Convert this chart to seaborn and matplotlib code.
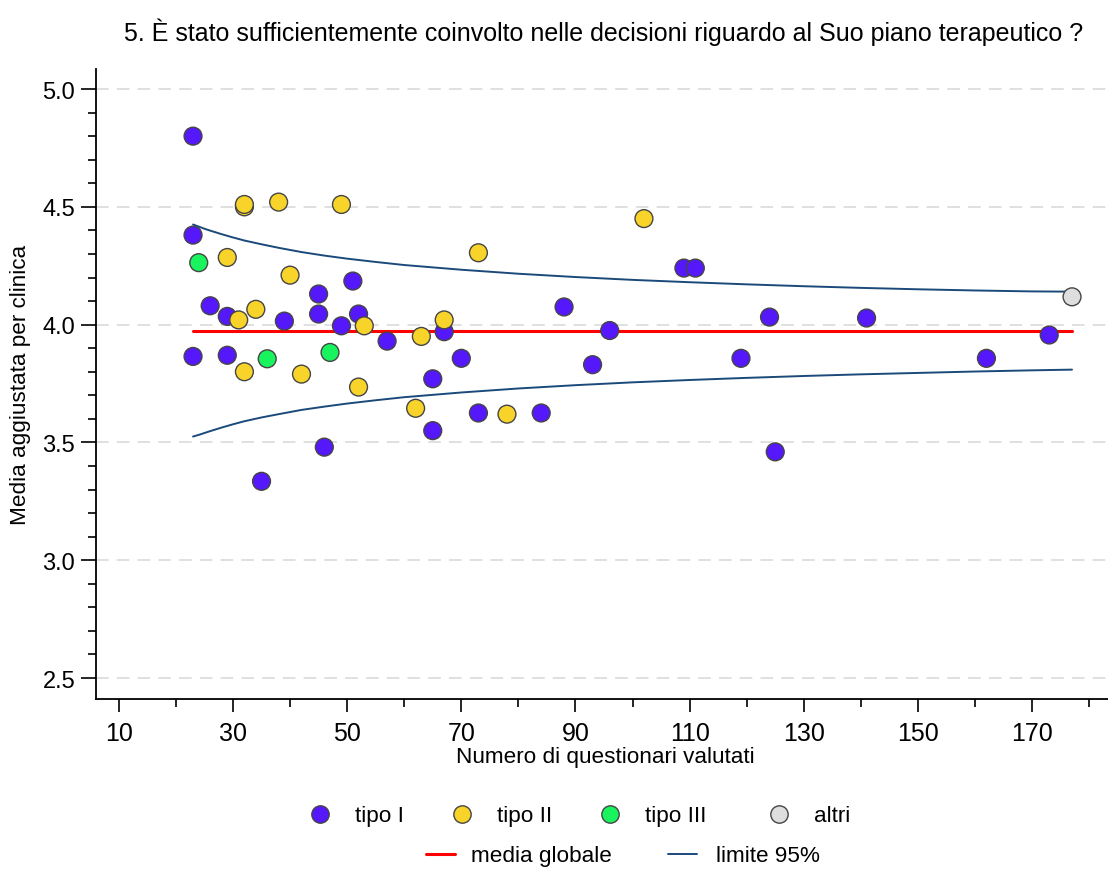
import matplotlib
matplotlib.use("Agg")
import matplotlib.pyplot as plt
from matplotlib.lines import Line2D
import seaborn as sns
import pandas as pd
import numpy as np

# ---- data ----
tipo1_n = [23, 23, 23, 26, 29, 29, 39, 45, 45, 35, 46, 51, 52, 49, 57, 65, 65, 67, 70, 73,
           84, 88, 93, 96, 109, 111, 119, 124, 125, 141, 162, 173]
tipo1_y = [4.80, 4.38, 3.865, 4.08, 4.035, 3.87, 4.015, 4.13, 4.045, 3.335, 3.48, 4.185, 4.045,
           3.995, 3.93, 3.77, 3.55, 3.97, 3.857, 3.625, 3.625, 4.075, 3.83, 3.975, 4.24, 4.24,
           3.857, 4.032, 3.46, 4.028, 3.857, 3.956]
tipo2_n = [32, 32, 38, 49, 29, 31, 34, 32, 40, 42, 53, 52, 63, 62, 67, 73, 78, 102]
tipo2_y = [4.50, 4.51, 4.52, 4.51, 4.285, 4.02, 4.065, 3.80, 4.21, 3.79, 3.995, 3.735, 3.95,
           3.645, 4.02, 4.305, 3.62, 4.45]
tipo3_n = [24, 36, 47]
tipo3_y = [4.263, 3.855, 3.882]
altri_n = [177]
altri_y = [4.118]

media_globale = 3.974
limit_n = [23, 24, 25, 26, 28, 30, 32, 35, 38, 42, 46, 50, 55, 60, 70, 80, 90, 100, 110,
           120, 130, 140, 150, 160, 170, 177]
limit_upper = [4.425, 4.416, 4.407, 4.399, 4.384, 4.370, 4.357, 4.341, 4.326, 4.308, 4.293,
               4.280, 4.266, 4.253, 4.233, 4.216, 4.202, 4.190, 4.180, 4.171, 4.163, 4.156,
               4.150, 4.145, 4.141, 4.140]
limit_lower = [3.525, 3.532, 3.540, 3.548, 3.563, 3.577, 3.590, 3.606, 3.620, 3.638, 3.652,
               3.665, 3.679, 3.692, 3.712, 3.729, 3.743, 3.755, 3.765, 3.774, 3.782, 3.789,
               3.795, 3.801, 3.806, 3.809]

categories = ["tipo I", "tipo II", "tipo III", "altri"]
colors = ["#5518FA", "#F8D42A", "#19F45E", "#DEDEDE"]
line_labels = ["media globale", "limite 95%"]
line_colors = ["#FF0000", "#1B4A7A"]

title = "5. È stato sufficientemente coinvolto nelle decisioni riguardo al Suo piano terapeutico ?"
xlabel = "Numero di questionari valutati"
ylabel = "Media aggiustata per clinica"
xticks = [10, 30, 50, 70, 90, 110, 130, 150, 170]
yticks = [2.5, 3.0, 3.5, 4.0, 4.5, 5.0]

# ---- build frames ----
df = pd.concat([
    pd.DataFrame({"n": tipo1_n, "y": tipo1_y, "tipo": "tipo I"}),
    pd.DataFrame({"n": tipo2_n, "y": tipo2_y, "tipo": "tipo II"}),
    pd.DataFrame({"n": tipo3_n, "y": tipo3_y, "tipo": "tipo III"}),
    pd.DataFrame({"n": altri_n, "y": altri_y, "tipo": "altri"}),
], ignore_index=True)
lim = pd.DataFrame({"n": limit_n, "up": limit_upper, "lo": limit_lower})
mean_df = pd.DataFrame({"n": [min(limit_n), max(limit_n)], "y": [media_globale, media_globale]})

sns.set_theme(style="white")
plt.rcParams["font.family"] = ["Liberation Sans", "DejaVu Sans"]
for k in ["text.color", "axes.labelcolor", "xtick.color", "ytick.color"]:
    plt.rcParams[k] = "black"

fig = plt.figure(figsize=(11.08, 8.70), dpi=100)
W, H = 1108.0, 870.0
ax = fig.add_axes([96 / W, 1 - 700 / H, 1 - 96 / W, (700 - 70) / H])

for yt in yticks:
    ax.axhline(yt, color="#DDDDDD", lw=1.3, dashes=(7, 4.5), zorder=0)

sns.lineplot(data=lim, x="n", y="up", ax=ax, color=line_colors[1], lw=1.4, zorder=2)
sns.lineplot(data=lim, x="n", y="lo", ax=ax, color=line_colors[1], lw=1.4, zorder=2)
sns.lineplot(data=mean_df, x="n", y="y", ax=ax, color=line_colors[0], lw=2.2, zorder=2)

sns.scatterplot(data=df, x="n", y="y", hue="tipo", hue_order=categories,
                palette=dict(zip(categories, colors)), s=165, edgecolor="#454545",
                linewidth=1.0, ax=ax, legend=False, zorder=3)

ax.set_xlim(6, 183.3)
ax.set_ylim(2.411, 5.085)
ax.set_xticks(xticks)
ax.set_xticks(np.arange(20, 181, 20), minor=True)
ax.set_yticks(yticks)
ax.set_yticks(np.arange(2.6, 5.0, 0.1), minor=True)
ax.set_yticklabels([f"{v:.1f}" for v in yticks], fontsize=17)
ax.set_xticklabels([str(v) for v in xticks], fontsize=18)

for s in ["top", "right"]:
    ax.spines[s].set_visible(False)
for s in ["left", "bottom"]:
    ax.spines[s].set_color("black")
    ax.spines[s].set_linewidth(1.3)

ax.tick_params(axis="y", which="major", direction="out", length=11, width=1.2, pad=4, left=True)
ax.tick_params(axis="y", which="minor", direction="out", length=6, width=1.2, left=True)
ax.tick_params(axis="x", which="major", direction="out", length=9, width=1.2, pad=7, bottom=True)
ax.tick_params(axis="x", which="minor", direction="out", length=5.5, width=1.2, bottom=True)

ax.set_xlabel(xlabel, fontsize=16.2)
ax.xaxis.set_label_coords((605 - 96) / 1012, (700 - 747) / 630)
ax.set_ylabel(ylabel, fontsize=16.2)
ax.yaxis.set_label_coords((31 - 96) / 1012, 0.5)

fig.text(604 / W, 1 - 32 / H, title, ha="center", va="center", fontsize=18)

# legends (one entry per legend box, placed to match the reference layout)
fs = 16.2
em = fs * 100 / 72.0
marker_x = [320, 462, 610, 779]
for cat, col, mx in zip(categories, colors, marker_x):
    h = Line2D([], [], marker="o", ls="", markersize=12.5, markerfacecolor=col,
               markeredgecolor="#454545", markeredgewidth=1.0)
    fig.legend([h], [cat], loc="center left", bbox_to_anchor=((mx - 0.5 * em) / W, 1 - 817 / H),
               frameon=False, fontsize=fs, borderpad=0, borderaxespad=0,
               handlelength=1.0, handletextpad=(35 - 0.5 * em) / em)
line_x = [(426, 455, 471), (668, 697, 716)]
line_w = [2.2, 1.4]
for lab, col, lw, (x0, x1, tx) in zip(line_labels, line_colors, line_w, line_x):
    h = Line2D([], [], color=col, lw=lw)
    fig.legend([h], [lab], loc="center left", bbox_to_anchor=(x0 / W, 1 - 857 / H),
               frameon=False, fontsize=fs, borderpad=0, borderaxespad=0,
               handlelength=(x1 - x0) / em, handletextpad=(tx - x1) / em)

fig.savefig("out.png", dpi=100)
